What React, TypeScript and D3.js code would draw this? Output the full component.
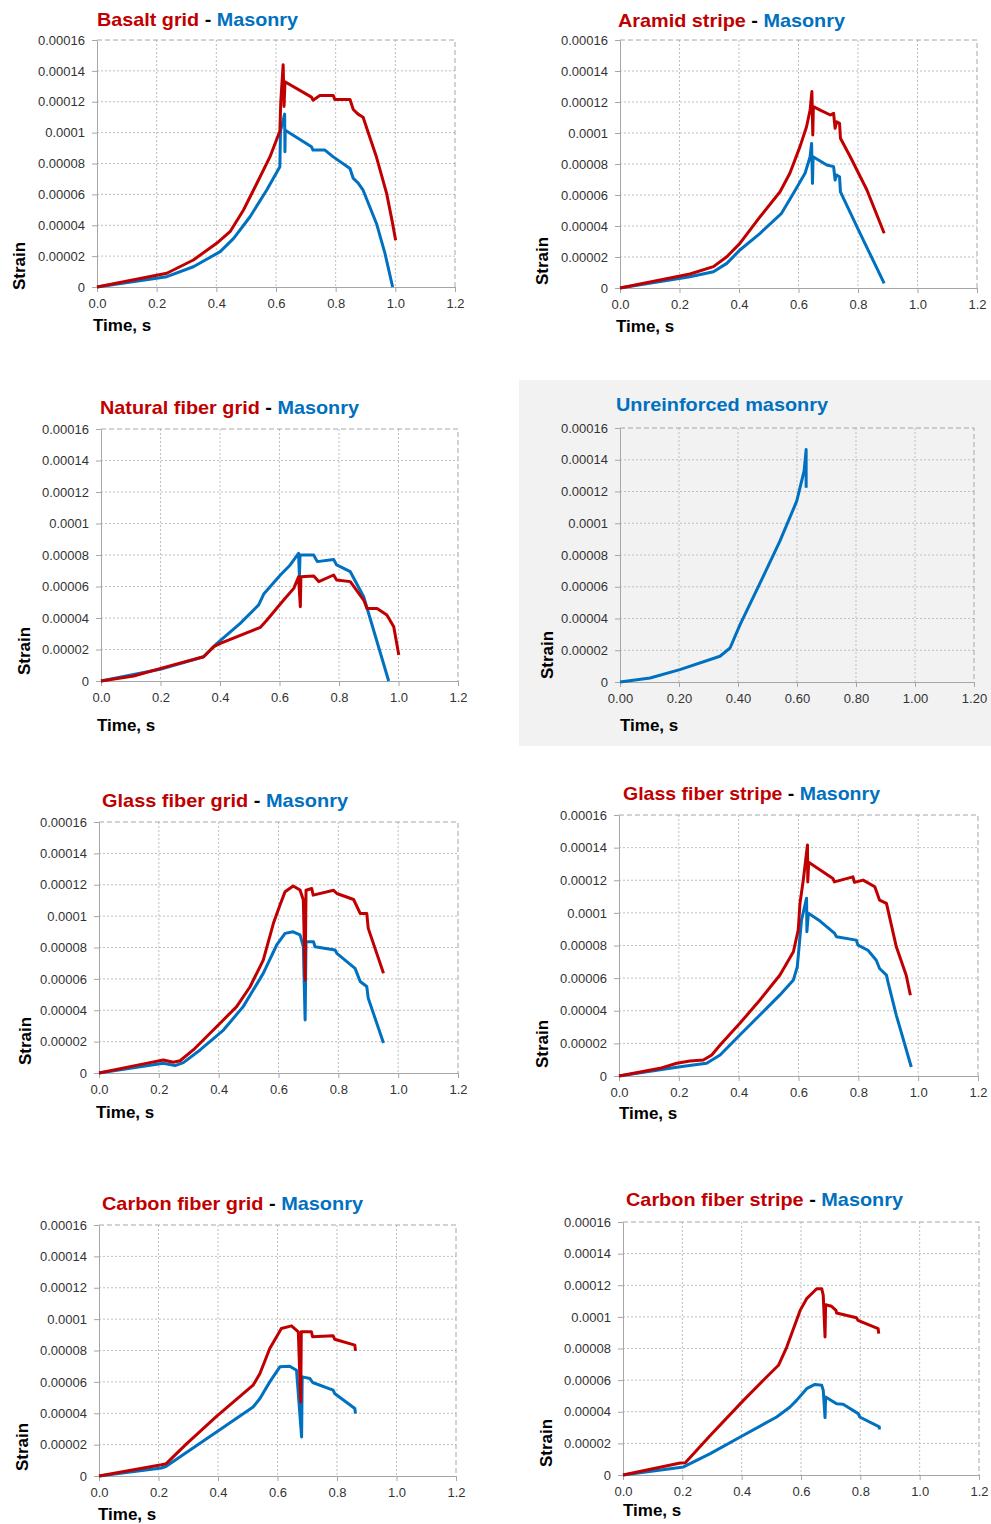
import React, { useRef, useEffect } from "react";
import * as d3 from "d3";

type Pt = [number, number];

const xTicks = [0, 0.2, 0.4, 0.6, 0.8, 1.0, 1.2];
const yTicks = [0, 0.00002, 0.00004, 0.00006, 0.00008, 0.0001, 0.00012, 0.00014, 0.00016];
const yTickLabels = ["0", "0.00002", "0.00004", "0.00006", "0.00008", "0.0001", "0.00012", "0.00014", "0.00016"];

// [time s, strain]
const basaltGrid: Pt[] = [
  [0, 0], [0.234, 0.89e-5], [0.323, 1.75e-5], [0.401, 2.83e-5], [0.446, 3.58e-5], [0.491, 4.99e-5],
  [0.536, 6.72e-5], [0.58, 8.44e-5], [0.613, 10.1e-5], [0.616, 12.0e-5], [0.624, 14.4e-5],
  [0.627, 11.7e-5], [0.63, 13.3e-5], [0.719, 12.3e-5], [0.724, 12.1e-5], [0.747, 12.4e-5],
  [0.792, 12.4e-5], [0.797, 12.15e-5], [0.848, 12.15e-5], [0.859, 11.5e-5], [0.875, 11.2e-5],
  [0.892, 11.0e-5], [0.904, 10.3e-5], [0.937, 8.4e-5], [0.971, 6.05e-5], [0.99, 4.2e-5],
  [1.001, 3.03e-5],
];
const basaltMasonry: Pt[] = [
  [0, 0], [0.234, 0.67e-5], [0.323, 1.31e-5], [0.413, 2.29e-5], [0.458, 3.15e-5], [0.513, 4.55e-5],
  [0.569, 6.28e-5], [0.613, 7.79e-5], [0.615, 10.1e-5], [0.629, 11.2e-5], [0.63, 8.76e-5],
  [0.631, 10.16e-5], [0.719, 9.08e-5], [0.724, 8.87e-5], [0.764, 8.87e-5], [0.792, 8.43e-5],
  [0.848, 7.68e-5], [0.859, 7.03e-5], [0.875, 6.75e-5], [0.892, 6.27e-5], [0.937, 4.1e-5],
  [0.965, 2.2e-5], [0.991, 0],
];

const aramidStripe: Pt[] = [
  [0, 0], [0.202, 0.77e-5], [0.235, 0.9e-5], [0.314, 1.38e-5], [0.359, 2.02e-5], [0.403, 2.88e-5],
  [0.471, 4.6e-5], [0.538, 6.21e-5], [0.571, 7.4e-5], [0.605, 9.12e-5], [0.627, 10.4e-5],
  [0.639, 11.48e-5], [0.645, 12.67e-5], [0.648, 9.87e-5], [0.65, 11.7e-5], [0.673, 11.48e-5],
  [0.707, 11.16e-5], [0.718, 11.27e-5], [0.723, 10.3e-5], [0.728, 10.73e-5], [0.738, 10.62e-5],
  [0.741, 9.66e-5], [0.774, 8.47e-5], [0.83, 6.32e-5], [0.888, 3.53e-5],
];
const aramidMasonry: Pt[] = [
  [0, 0], [0.235, 0.73e-5], [0.314, 1.05e-5], [0.359, 1.59e-5], [0.403, 2.45e-5], [0.471, 3.53e-5],
  [0.543, 4.82e-5], [0.583, 6.11e-5], [0.622, 7.4e-5], [0.639, 8.47e-5], [0.644, 9.33e-5],
  [0.647, 6.75e-5], [0.649, 8.47e-5], [0.695, 7.94e-5], [0.718, 7.83e-5], [0.723, 6.97e-5],
  [0.728, 7.29e-5], [0.738, 7.18e-5], [0.741, 6.2e-5], [0.807, 3.53e-5], [0.888, 0.3e-5],
];

const naturalGrid: Pt[] = [
  [0, 0], [0.11, 0.32e-5], [0.222, 0.91e-5], [0.345, 1.54e-5], [0.379, 2.18e-5], [0.401, 2.39e-5],
  [0.536, 3.41e-5], [0.558, 3.87e-5], [0.614, 5.14e-5], [0.648, 5.88e-5], [0.664, 6.62e-5],
  [0.67, 4.72e-5], [0.672, 6.62e-5], [0.715, 6.67e-5], [0.732, 6.31e-5], [0.782, 6.73e-5],
  [0.792, 6.41e-5], [0.838, 6.31e-5], [0.883, 5.14e-5], [0.894, 4.61e-5], [0.928, 4.61e-5],
  [0.961, 4.19e-5], [0.984, 3.45e-5], [1.001, 1.65e-5],
];
const naturalMasonry: Pt[] = [
  [0, 0], [0.199, 0.74e-5], [0.345, 1.54e-5], [0.39, 2.39e-5], [0.468, 3.66e-5], [0.53, 4.83e-5],
  [0.547, 5.52e-5], [0.603, 6.73e-5], [0.636, 7.37e-5], [0.664, 8.11e-5], [0.667, 6.62e-5],
  [0.669, 8.0e-5], [0.715, 8.0e-5], [0.727, 7.58e-5], [0.782, 7.72e-5], [0.792, 7.37e-5],
  [0.838, 6.94e-5], [0.883, 5.35e-5], [0.967, 0],
];

const unreinforcedMasonry: Pt[] = [
  [0, 0], [0.102, 0.25e-5], [0.203, 0.78e-5], [0.339, 1.62e-5], [0.373, 2.14e-5], [0.407, 3.61e-5],
  [0.475, 6.24e-5], [0.542, 8.87e-5], [0.599, 11.39e-5], [0.624, 13.28e-5], [0.631, 14.64e-5],
  [0.631, 12.23e-5],
];

const glassGrid: Pt[] = [
  [0, 0], [0.17, 0.66e-5], [0.215, 0.83e-5], [0.248, 0.68e-5], [0.271, 0.78e-5], [0.315, 1.47e-5],
  [0.393, 2.95e-5], [0.46, 4.23e-5], [0.505, 5.5e-5], [0.549, 7.2e-5], [0.583, 9.54e-5],
  [0.605, 10.71e-5], [0.622, 11.56e-5], [0.649, 11.92e-5], [0.672, 11.66e-5], [0.683, 11.03e-5],
  [0.689, 5.93e-5], [0.692, 11.65e-5], [0.711, 11.76e-5], [0.716, 11.34e-5], [0.784, 11.65e-5],
  [0.795, 11.44e-5], [0.851, 11.06e-5], [0.873, 10.17e-5], [0.895, 10.17e-5], [0.9, 9.22e-5],
  [0.951, 6.36e-5],
];
const glassGridMasonry: Pt[] = [
  [0, 0], [0.215, 0.62e-5], [0.254, 0.47e-5], [0.282, 0.66e-5], [0.338, 1.47e-5], [0.416, 2.74e-5],
  [0.482, 4.23e-5], [0.549, 6.35e-5], [0.594, 8.16e-5], [0.622, 8.9e-5], [0.649, 9.0e-5],
  [0.672, 8.8e-5], [0.683, 8.05e-5], [0.689, 3.38e-5], [0.692, 8.37e-5], [0.717, 8.37e-5],
  [0.722, 8.05e-5], [0.789, 7.84e-5], [0.795, 7.63e-5], [0.856, 6.67e-5], [0.873, 5.83e-5],
  [0.895, 5.51e-5], [0.9, 4.77e-5], [0.951, 1.91e-5],
];

const glassStripe: Pt[] = [
  [0, 0], [0.137, 0.47e-5], [0.193, 0.78e-5], [0.237, 0.92e-5], [0.282, 0.98e-5], [0.31, 1.29e-5],
  [0.338, 1.9e-5], [0.404, 3.23e-5], [0.471, 4.66e-5], [0.538, 6.19e-5], [0.583, 7.62e-5],
  [0.599, 8.95e-5], [0.605, 10.59e-5], [0.616, 12.02e-5], [0.63, 14.16e-5], [0.631, 11.9e-5],
  [0.634, 13.1e-5], [0.715, 12.11e-5], [0.72, 11.9e-5], [0.782, 12.21e-5], [0.787, 11.87e-5],
  [0.816, 12.01e-5], [0.855, 11.6e-5], [0.861, 11.29e-5], [0.871, 10.78e-5], [0.894, 10.58e-5],
  [0.927, 7.92e-5], [0.96, 6.18e-5], [0.974, 4.95e-5],
];
const glassStripeMasonry: Pt[] = [
  [0, 0], [0.193, 0.53e-5], [0.248, 0.67e-5], [0.293, 0.78e-5], [0.338, 1.29e-5], [0.404, 2.51e-5],
  [0.471, 3.74e-5], [0.538, 4.97e-5], [0.583, 5.89e-5], [0.596, 6.7e-5], [0.605, 8.54e-5],
  [0.61, 9.56e-5], [0.627, 10.9e-5], [0.628, 8.85e-5], [0.633, 9.97e-5], [0.672, 9.5e-5],
  [0.721, 8.74e-5], [0.727, 8.53e-5], [0.793, 8.33e-5], [0.799, 8.02e-5], [0.832, 7.71e-5],
  [0.86, 7.1e-5], [0.871, 6.59e-5], [0.894, 6.18e-5], [0.899, 5.77e-5], [0.927, 3.72e-5],
  [0.977, 0.55e-5],
];

const carbonGrid: Pt[] = [
  [0, 0], [0.21, 0.72e-5], [0.226, 0.79e-5], [0.294, 2.05e-5], [0.395, 3.8e-5], [0.518, 5.79e-5],
  [0.541, 6.53e-5], [0.574, 8.13e-5], [0.613, 9.4e-5], [0.647, 9.57e-5], [0.67, 9.19e-5],
  [0.678, 4.72e-5], [0.68, 9.19e-5], [0.714, 9.19e-5], [0.718, 8.87e-5], [0.787, 8.94e-5],
  [0.792, 8.72e-5], [0.86, 8.34e-5], [0.862, 7.98e-5],
];
const carbonGridMasonry: Pt[] = [
  [0, 0], [0.21, 0.51e-5], [0.226, 0.62e-5], [0.395, 2.81e-5], [0.518, 4.4e-5], [0.541, 4.94e-5],
  [0.574, 6.0e-5], [0.608, 6.96e-5], [0.641, 7.0e-5], [0.664, 6.74e-5], [0.681, 2.49e-5],
  [0.683, 6.32e-5], [0.709, 6.21e-5], [0.718, 5.96e-5], [0.787, 5.47e-5], [0.792, 5.26e-5],
  [0.86, 4.3e-5], [0.862, 3.98e-5],
];

const carbonStripe: Pt[] = [
  [0, 0], [0.193, 0.76e-5], [0.21, 0.78e-5], [0.294, 2.5e-5], [0.406, 4.72e-5], [0.473, 5.99e-5],
  [0.524, 6.94e-5], [0.552, 8.09e-5], [0.597, 10.41e-5], [0.619, 11.15e-5], [0.653, 11.78e-5],
  [0.67, 11.78e-5], [0.675, 11.36e-5], [0.681, 8.73e-5], [0.683, 10.77e-5], [0.703, 10.67e-5],
  [0.718, 10.41e-5], [0.72, 10.24e-5], [0.787, 9.95e-5], [0.792, 9.78e-5], [0.86, 9.25e-5],
  [0.862, 8.94e-5],
];
const carbonStripeMasonry: Pt[] = [
  [0, 0], [0.204, 0.51e-5], [0.294, 1.35e-5], [0.406, 2.51e-5], [0.518, 3.67e-5], [0.563, 4.3e-5],
  [0.585, 4.72e-5], [0.619, 5.46e-5], [0.647, 5.73e-5], [0.67, 5.67e-5], [0.675, 5.35e-5],
  [0.681, 3.63e-5], [0.683, 4.93e-5], [0.72, 4.51e-5], [0.742, 4.47e-5], [0.793, 3.88e-5],
  [0.798, 3.67e-5], [0.864, 3.04e-5], [0.864, 2.87e-5],
];

const RED = "#c00000";
const BLUE = "#0070c0";
const FONT = "'Liberation Sans', Arial, sans-serif";

interface Panel {
  name: string | null;
  red: Pt[] | null;
  blue: Pt[];
  xDigits: number;
  box: { l: number; t: number; r: number; b: number };
  title: { x: number; y: number; w: number };
  strain: { x: number; y: number };
  time: { x: number; y: number };
  shade?: { x: number; y: number; w: number; h: number };
}

const panels: Panel[] = [
  {
    name: "Basalt grid", red: basaltGrid, blue: basaltMasonry, xDigits: 1,
    box: { l: 97, t: 40, r: 455, b: 287 }, title: { x: 97, y: 26, w: 201 },
    strain: { x: 25, y: 290 }, time: { x: 93, y: 331 },
  },
  {
    name: "Aramid stripe", red: aramidStripe, blue: aramidMasonry, xDigits: 1,
    box: { l: 620, t: 40, r: 977, b: 288 }, title: { x: 618, y: 27, w: 227 },
    strain: { x: 548, y: 285 }, time: { x: 616, y: 332 },
  },
  {
    name: "Natural fiber grid", red: naturalGrid, blue: naturalMasonry, xDigits: 1,
    box: { l: 101, t: 429, r: 458, b: 681 }, title: { x: 100, y: 414, w: 259 },
    strain: { x: 30, y: 675 }, time: { x: 97, y: 731 },
  },
  {
    name: null, red: null, blue: unreinforcedMasonry, xDigits: 2,
    box: { l: 620, t: 428, r: 974, b: 682 }, title: { x: 616, y: 411, w: 212 },
    strain: { x: 553, y: 679 }, time: { x: 620, y: 731 },
    shade: { x: 519, y: 380, w: 472, h: 366 },
  },
  {
    name: "Glass fiber grid", red: glassGrid, blue: glassGridMasonry, xDigits: 1,
    box: { l: 99, t: 822, r: 458, b: 1073 }, title: { x: 102, y: 807, w: 246 },
    strain: { x: 31, y: 1065 }, time: { x: 96, y: 1118 },
  },
  {
    name: "Glass fiber stripe", red: glassStripe, blue: glassStripeMasonry, xDigits: 1,
    box: { l: 619, t: 815, r: 978, b: 1076 }, title: { x: 623, y: 800, w: 257 },
    strain: { x: 548, y: 1068 }, time: { x: 619, y: 1119 },
  },
  {
    name: "Carbon fiber grid", red: carbonGrid, blue: carbonGridMasonry, xDigits: 1,
    box: { l: 99, t: 1225, r: 456, b: 1476 }, title: { x: 102, y: 1210, w: 261 },
    strain: { x: 28, y: 1471 }, time: { x: 98, y: 1520 },
  },
  {
    name: "Carbon fiber stripe", red: carbonStripe, blue: carbonStripeMasonry, xDigits: 1,
    box: { l: 623, t: 1222, r: 979, b: 1475 }, title: { x: 626, y: 1206, w: 277 },
    strain: { x: 552, y: 1467 }, time: { x: 623, y: 1516 },
  },
];

export default function App() {
  const svgRef = useRef<SVGSVGElement>(null);

  useEffect(() => {
    document.body.style.margin = "0";
    const svg = d3.select(svgRef.current);
    svg.selectAll("*").remove();

    panels.forEach((p) => {
      const g = svg.append("g");
      const { l, t, r, b } = p.box;

      if (p.shade) {
        g.append("rect")
          .attr("x", p.shade.x).attr("y", p.shade.y)
          .attr("width", p.shade.w).attr("height", p.shade.h)
          .attr("fill", "#f2f2f2");
      }

      const x = d3.scaleLinear().domain([0, 1.2]).range([l, r]);
      const y = d3.scaleLinear().domain([0, 0.00016]).range([b, t]);

      // inner grid
      g.append("g").selectAll("line")
        .data(xTicks.slice(1, -1)).join("line")
        .attr("x1", (d) => x(d)).attr("x2", (d) => x(d))
        .attr("y1", t).attr("y2", b)
        .attr("stroke", "#bfbfbf").attr("stroke-dasharray", "2,2");
      g.append("g").selectAll("line")
        .data(yTicks.slice(1, -1)).join("line")
        .attr("y1", (d) => y(d)).attr("y2", (d) => y(d))
        .attr("x1", l).attr("x2", r)
        .attr("stroke", "#bfbfbf").attr("stroke-dasharray", "2,2");

      // top and right border, dashed
      g.append("path")
        .attr("d", `M${l},${t}H${r}V${b}`)
        .attr("fill", "none")
        .attr("stroke", "#a6a6a6")
        .attr("stroke-dasharray", "5,3");

      // axes
      const fmtX = d3.format(`.${p.xDigits}f`);
      const xAxis = g.append("g")
        .attr("transform", `translate(0,${b})`)
        .call(d3.axisBottom(x).tickValues(xTicks).tickFormat((d) => fmtX(d as number)).tickSize(5).tickSizeOuter(0).tickPadding(7));
      const yAxis = g.append("g")
        .attr("transform", `translate(${l},0)`)
        .call(d3.axisLeft(y).tickValues(yTicks).tickFormat((_, i) => yTickLabels[i]).tickSize(5).tickSizeOuter(0).tickPadding(7));
      [xAxis, yAxis].forEach((a) => {
        a.attr("font-family", FONT).attr("font-size", 13);
        a.select(".domain").attr("stroke", "#a6a6a6");
        a.selectAll(".tick line").attr("stroke", "#a6a6a6");
        a.selectAll(".tick text").attr("fill", "#333");
      });

      // series
      const line = d3.line<Pt>().x((d) => x(d[0])).y((d) => y(d[1]));
      const series: [Pt[], string][] = [[p.blue, BLUE]];
      if (p.red) series.push([p.red, RED]);
      series.forEach(([data, color]) => {
        g.append("path")
          .datum(data)
          .attr("d", line)
          .attr("fill", "none")
          .attr("stroke", color)
          .attr("stroke-width", 3)
          .attr("stroke-linejoin", "round")
          .attr("stroke-linecap", "butt");
      });

      // title
      const title = g.append("text")
        .attr("x", p.title.x).attr("y", p.title.y)
        .attr("font-family", FONT).attr("font-weight", "bold").attr("font-size", 19)
        .attr("textLength", p.title.w).attr("lengthAdjust", "spacingAndGlyphs");
      if (p.name) {
        title.append("tspan").attr("fill", RED).text(p.name);
        title.append("tspan").attr("fill", "#000").text(" - ");
        title.append("tspan").attr("fill", BLUE).text("Masonry");
      } else {
        title.append("tspan").attr("fill", BLUE).text("Unreinforced masonry");
      }

      // axis titles
      g.append("text")
        .attr("transform", `translate(${p.strain.x},${p.strain.y}) rotate(-90)`)
        .attr("font-family", FONT).attr("font-weight", "bold").attr("font-size", 17)
        .attr("fill", "#000")
        .text("Strain");
      g.append("text")
        .attr("x", p.time.x).attr("y", p.time.y)
        .attr("font-family", FONT).attr("font-weight", "bold").attr("font-size", 17)
        .attr("fill", "#000")
        .text("Time, s");
    });
  }, []);

  return <svg ref={svgRef} width={991} height={1524} style={{ display: "block", background: "#fff" }} />;
}
